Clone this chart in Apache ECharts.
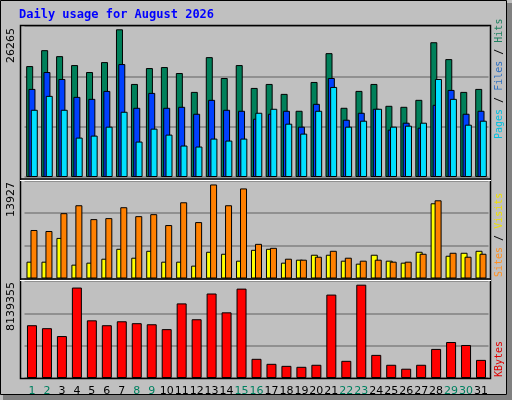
<!DOCTYPE html>
<html><head><meta charset="utf-8">
<script src="https://cdn.jsdelivr.net/npm/echarts@6/dist/echarts.min.js"></script>
<style>html,body{margin:0;padding:0;background:#c0c0c0}#c{width:512px;height:400px}</style>
</head><body><div id="c"></div>
<script>
var days = ['1','2','3','4','5','6','7','8','9','10','11','12','13','14','15','16','17','18','19','20','21','22','23','24','25','26','27','28','29','30','31'];
var weekend = ['1','2','8','9','15','16','22','23','29','30'];
var hits  = [19296,22061,21024,19469,18259,19987,25690,16186,18950,19123,18086,14803,20851,17222,19469,15494,16186,14458,11520,16531,21542,12038,14976,16186,12384,12211,13421,23443,20506,14803,15322];
var files = [15322,18259,17050,13939,13594,14976,19642,12038,14630,12038,12211,11002,13421,11693,11520,10138,11002,11520,8755,12730,17222,9965,11174,11866,8237,9446,8582,12557,15149,11002,11520];
var pages = [11693,14112,11693,6854,7200,8755,11347,6163,8410,7373,5472,5299,6682,6336,6682,11174,11866,9274,7546,11520,15667,8755,9792,11866,8755,8928,9446,17050,13594,9101,9792];
var visitsY = [2391,2391,5767,1969,2251,2813,4220,2954,3939,2391,2391,1829,3798,3517,2532,4079,4220,2251,2673,3376,3376,2532,2110,3376,2532,2251,3798,10691,3235,3657,3939];
var sitesO  = [6893,6752,9284,10410,8440,8581,10128,8862,9144,7596,10832,8018,13364,10410,12801,4923,4361,2813,2673,3095,3939,2954,2532,2673,2391,2391,3517,11113,3657,3095,3517];
var kbytes = [4430000,4180000,3520000,7590000,4840000,4430000,4760000,4600000,4510000,4100000,6260000,4930000,7090000,5510000,7500000,1610000,1190000,1020000,940000,1110000,7000000,1440000,7830000,1940000,1110000,780000,1110000,2440000,3020000,2770000,1520000];
var maxTop = 26265, maxMid = 13927, maxBot = 8139355;

var ch = echarts.init(document.getElementById('c'));
var L = 24.5, R = 23.5;
var grids = [{left:L,right:R,top:26,height:151},{left:L,right:R,top:180.5,height:98},{left:L,right:R,top:281,height:97}];
function xa(i){return {type:'category',gridIndex:i,data:days,axisLine:{show:false},axisTick:{show:false},
  axisLabel:{show:i===2,interval:0,margin:8,fontFamily:'DejaVu Sans',fontSize:11,
    color:function(v){return weekend.indexOf(v)>=0?'#008060':'#000';}}};}
function ya(i,m){return {type:'value',gridIndex:i,min:0,max:m,interval:m/3,axisLabel:{show:false},axisLine:{show:false},axisTick:{show:false},
  splitLine:{show:true,lineStyle:{color:'#808080',width:1.5}}};}
var bs = {borderColor:'#000',borderWidth:1};
function bar(name,data,g,color,w,gap){return {name:name,type:'bar',xAxisIndex:g,yAxisIndex:g,data:data,barWidth:w,barGap:gap,
  itemStyle:Object.assign({color:color},bs),animation:false,silent:true};}
function vtext(x,y,align,rich,text){return {type:'text',x:x,y:y,rotation:Math.PI/2,z:10,
  style:{text:text,align:align,verticalAlign:'middle',font:'10px "DejaVu Sans Mono"',rich:rich}};}
var mono = '"DejaVu Sans Mono"';
ch.setOption({
  backgroundColor:'#c0c0c0',
  animation:false,
  grid:grids,
  xAxis:[xa(0),xa(1),xa(2)],
  yAxis:[ya(0,maxTop),ya(1,maxMid),ya(2,maxBot)],
  series:[
    bar('Hits',hits,0,'#00805a',7,'-67%'),
    bar('Files',files,0,'#0040ff',7,'-67%'),
    bar('Pages',pages,0,'#00e0ff',7,'-67%'),
    bar('Visits',visitsY,1,'#ffff00',7,'-43%'),
    bar('Sites',sitesO,1,'#ff8000',7,'-43%'),
    bar('KBytes',kbytes,2,'#ff0000',10,'0%')
  ],
  graphic:[
    {type:'rect',shape:{x:0.5,y:0.5,width:506,height:394},style:{fill:null,stroke:'#000',lineWidth:1},z:-1},
    {type:'rect',shape:{x:507,y:3,width:5,height:397},style:{fill:'#808080'},z:-1},
    {type:'rect',shape:{x:3,y:395,width:509,height:5},style:{fill:'#808080'},z:-1},
    {type:'rect',shape:{x:20.5,y:25.5,width:470,height:353},style:{fill:null,stroke:'#000',lineWidth:1.5},z:5},
    {type:'line',shape:{x1:20,y1:179,x2:491,y2:179},style:{stroke:'#000',lineWidth:1.5},z:5},
    {type:'line',shape:{x1:20,y1:180.5,x2:491,y2:180.5},style:{stroke:'#fff',lineWidth:1},z:5},
    {type:'line',shape:{x1:20,y1:279,x2:491,y2:279},style:{stroke:'#000',lineWidth:1.5},z:5},
    {type:'line',shape:{x1:20,y1:280.5,x2:491,y2:280.5},style:{stroke:'#fff',lineWidth:1},z:5},
    {type:'text',x:19,y:15,z:10,style:{text:'Daily usage for August 2026',font:'bold 12px '+mono,fill:'#0000ff',verticalAlign:'middle'}},
    {type:'text',x:11,y:28,rotation:Math.PI/2,z:10,style:{text:String(maxTop),align:'right',verticalAlign:'middle',font:'11px "DejaVu Sans"',fill:'#000'}},
    {type:'text',x:11,y:182,rotation:Math.PI/2,z:10,style:{text:String(maxMid),align:'right',verticalAlign:'middle',font:'11px "DejaVu Sans"',fill:'#000'}},
    {type:'text',x:11,y:282,rotation:Math.PI/2,z:10,style:{text:String(maxBot),align:'right',verticalAlign:'middle',font:'11px "DejaVu Sans"',fill:'#000'}},
    vtext(499,139,'left',{p:{fill:'#00c0e0',font:'10px '+mono},f:{fill:'#3070c0',font:'10px '+mono},h:{fill:'#208060',font:'10px '+mono},s:{fill:'#000',font:'10px '+mono}},
      '{p|Pages}{s| / }{f|Files}{s| / }{h|Hits}'),
    vtext(499,277,'left',{o:{fill:'#ff9020',font:'10px '+mono},y:{fill:'#f0e000',font:'10px '+mono},s:{fill:'#000',font:'10px '+mono}},
      '{o|Sites}{s| / }{y|Visits}'),
    vtext(499,377,'left',{r:{fill:'#e00000',font:'10px '+mono}},'{r|KBytes}')
  ]
});
</script></body></html>
